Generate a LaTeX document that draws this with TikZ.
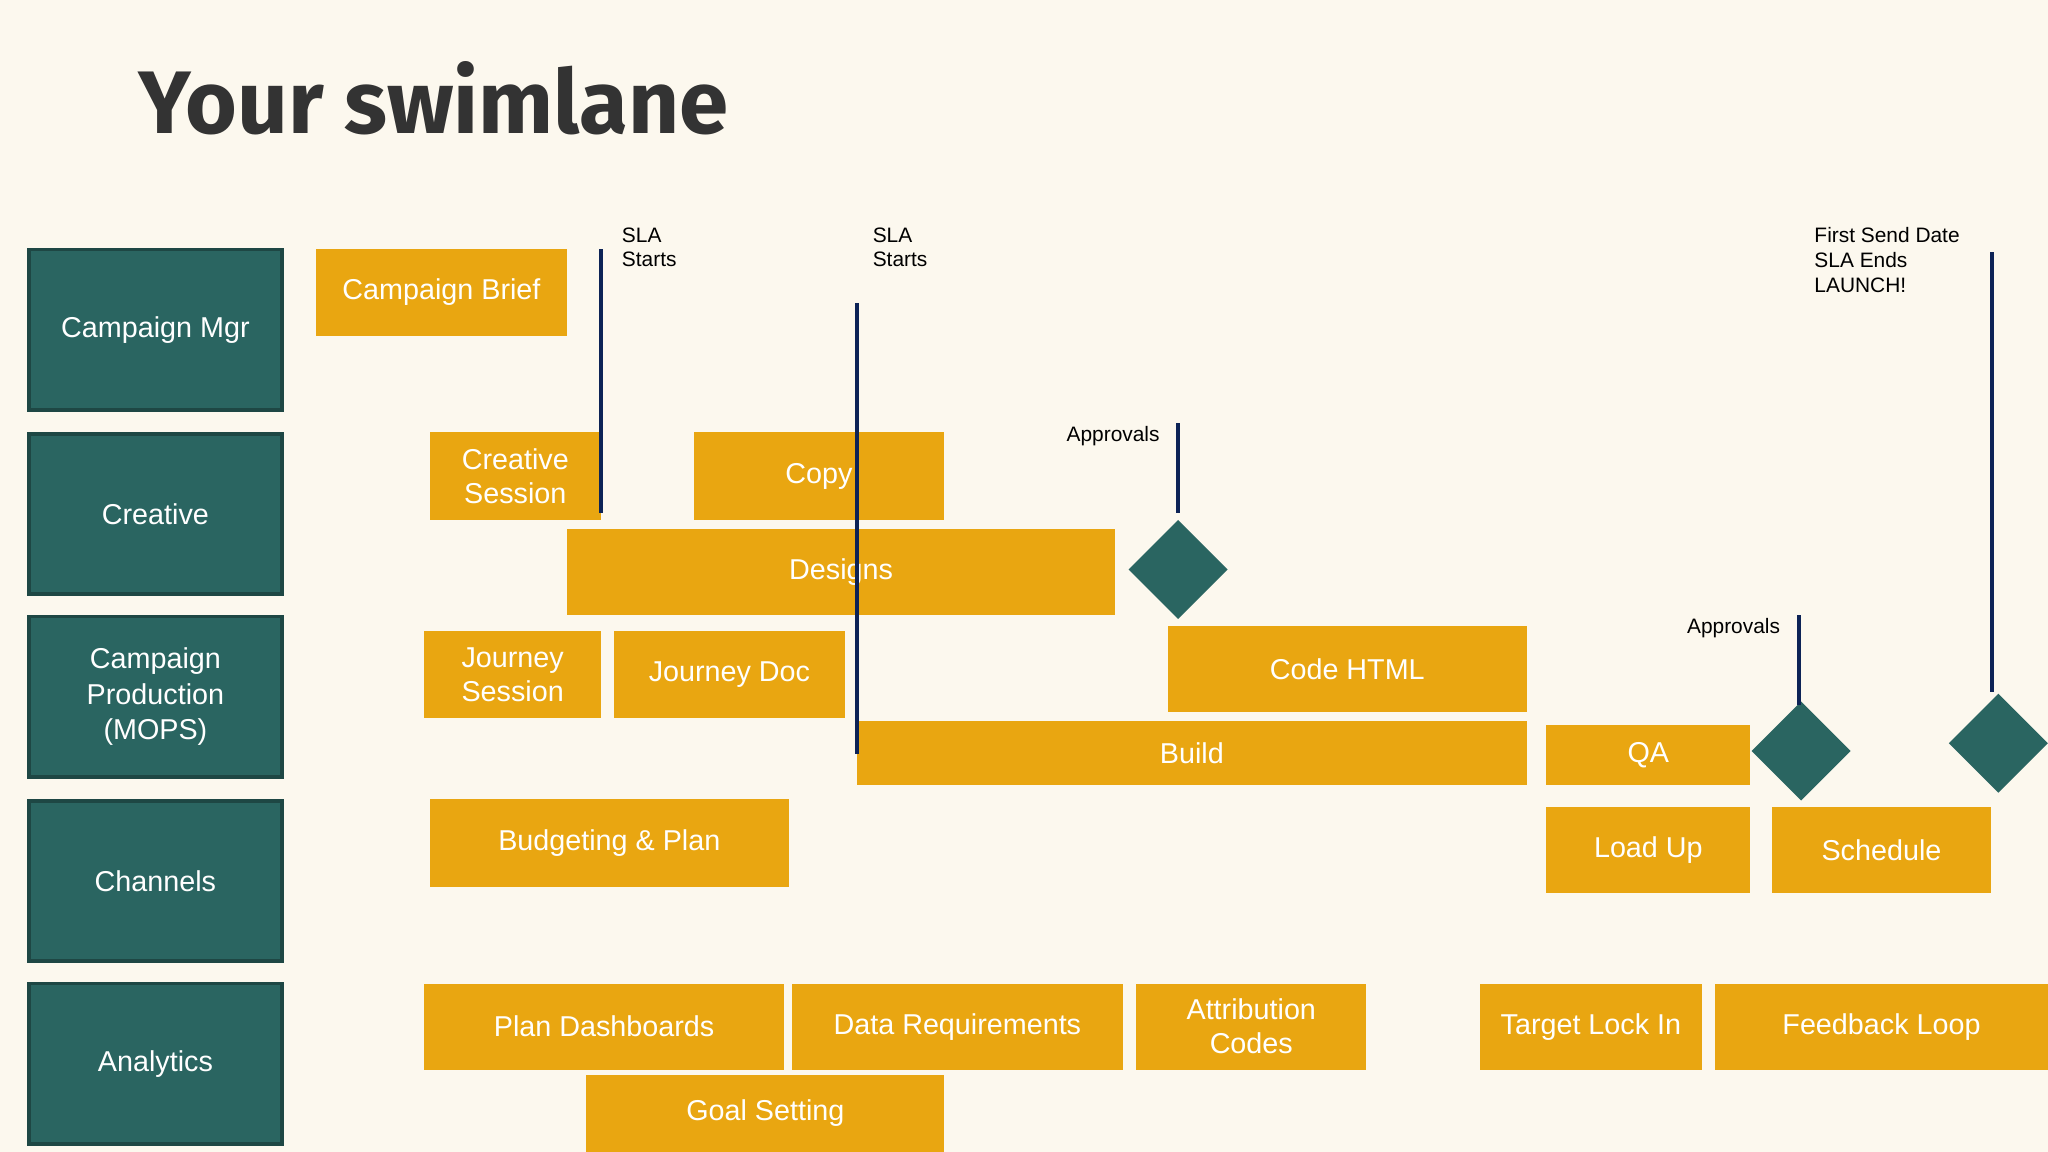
\documentclass[tikz,border=0pt]{standalone}
\usepackage{fontspec}
\setmainfont{Liberation Sans}
\newfontfamily\titlefont{Fira Sans}
\usetikzlibrary{shapes.geometric}
\definecolor{bg}{HTML}{FCF8EE}
\definecolor{org}{HTML}{E9A611}
\definecolor{teal}{HTML}{2A6561}
\definecolor{tealdk}{HTML}{1E4744}
\definecolor{navy}{HTML}{0D2356}
\definecolor{ttl}{HTML}{333333}
\tikzset{
 box/.style={fill=org,draw=none,text=white,font=\fontsize{22}{26}\selectfont,align=center,inner sep=0,outer sep=0},
 lane/.style={fill=teal,draw=tealdk,line width=3pt,text=white,font=\fontsize{22}{27}\selectfont,align=center,inner sep=0},
 dia/.style={diamond,fill=teal,draw=none,inner sep=0,minimum width=76pt,minimum height=76pt},
 sla/.style={draw=navy,line width=3pt},
 lbl/.style={font=\fontsize{16}{20}\selectfont,align=left,inner sep=0}
}
\newcommand{\bx}[7][box]{\node[#1,minimum width={(#5-#3)*1pt},minimum height={(#6-#4)*1pt}] (#2) at ({(#3+#5)/2},{(#4+#6)/2}) {#7};}
\begin{document}
\begin{tikzpicture}[x=1pt,y=-1pt]
\fill[bg] (0,0) rectangle (1568,882);
\useasboundingbox (0,0) rectangle (1568,882);
\node[anchor=base west,inner sep=0,text=ttl,font=\titlefont\bfseries\fontsize{68}{80}\selectfont] (title) at (106,102) {Your swimlane};
\bx[lane]{l1}{22}{191}{216}{314}{Campaign Mgr}
\bx[lane]{l2}{22}{332}{216}{455}{Creative}
\bx[lane]{l3}{22}{472}{216}{595}{Campaign\\Production\\(MOPS)}
\bx[lane]{l4}{22}{613}{216}{736}{Channels}
\bx[lane]{l5}{22}{753}{216}{876}{Analytics}
\bx{b1}{242}{191}{434}{257}{Campaign Brief}
\bx{b2}{329}{331}{460}{398}{Creative\\Session}
\bx{b3}{531}{331}{723}{398}{Copy}
\bx{b4}{434}{405}{854}{471}{Designs}
\bx{b5}{325}{483}{460}{550}{Journey\\Session}
\bx{b6}{470}{483}{647}{550}{Journey Doc}
\bx{b7}{894}{479}{1169}{545}{Code HTML}
\bx{b8}{656}{552}{1169}{601}{Build}
\bx{b9}{1184}{555}{1340}{601}{QA}
\bx{b10}{1184}{618}{1340}{684}{Load Up}
\bx{b11}{1357}{618}{1524}{684}{Schedule}
\bx{b12}{329}{612}{604}{679}{Budgeting \& Plan}
\bx{b13}{325}{753}{600}{819}{Plan Dashboards}
\bx{b14}{606}{753}{860}{819}{Data Requirements}
\bx{b15}{870}{753}{1046}{819}{Attribution\\Codes}
\bx{b16}{1133}{753}{1303}{819}{Target Lock In}
\bx{b17}{1313}{753}{1568}{819}{Feedback Loop}
\bx{b18}{449}{823}{723}{882}{Goal Setting}
\node[dia] (d1) at (902,436) {};
\node[dia] (d2) at (1379,575) {};
\node[dia] (d3) at (1530,569) {};
\coordinate (s1a) at (460,191); \coordinate (s1b) at (460,393);
\coordinate (s2a) at (656,232); \coordinate (s2b) at (656,577);
\coordinate (s3a) at (902,324); \coordinate (s3b) at (902,393);
\coordinate (s4a) at (1377,471); \coordinate (s4b) at (1377,540);
\coordinate (s5a) at (1525,193); \coordinate (s5b) at (1525,530);
\draw[sla] (s1a) -- (s1b);
\draw[sla] (s2a) -- (s2b);
\draw[sla] (s3a) -- (s3b);
\draw[sla] (s4a) -- (s4b);
\draw[sla] (s5a) -- (s5b);
\node[lbl,anchor=north west] (t1) at (476,174) {SLA\\[-1pt]Starts};
\node[lbl,anchor=north west] (t2) at (668,174) {SLA\\[-1pt]Starts};
\node[lbl,anchor=north west] (t3) at (1389,174) {First Send Date\\[-1pt]SLA Ends\\[-1pt]LAUNCH!};
\node[lbl,anchor=east] (t4) at (888,334) {Approvals};
\node[lbl,anchor=east] (t5) at (1363,481) {Approvals};
\end{tikzpicture}
\end{document}
